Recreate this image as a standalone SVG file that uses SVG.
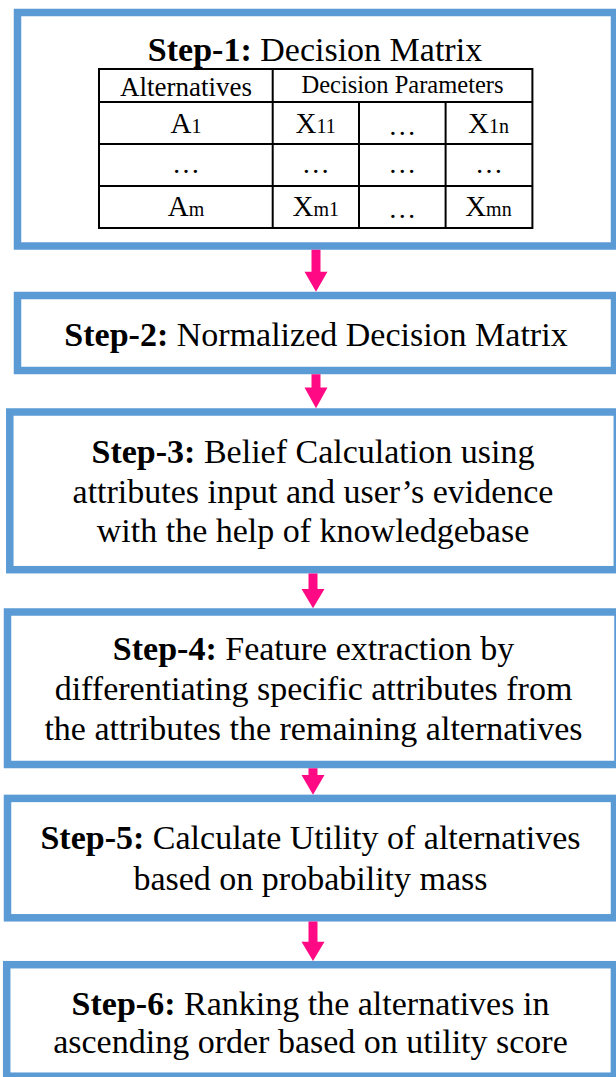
<svg xmlns="http://www.w3.org/2000/svg" width="616" height="1077" viewBox="0 0 616 1077">
<style>
.box{fill:#ffffff;stroke:#5B9BD5;stroke-width:7.5}
.t{font-family:"Liberation Serif","Times New Roman",serif;font-size:34px;fill:#000;text-anchor:middle}
.b{font-weight:bold}
.cell{fill:none;stroke:#000;stroke-width:2}
.tc{font-family:"Liberation Serif","Times New Roman",serif;fill:#000;text-anchor:middle}
.sub{font-size:20px}
.arrow{fill:#FF0A84}
</style>
<rect width="616" height="1077" fill="#ffffff"/>
<g id="step1">
<rect class="box" x="17.5" y="12.5" width="597" height="233.5"/>
<text class="t" x="315" y="61"><tspan class="b">Step-1:</tspan> Decision Matrix</text>
<g id="matrix">
<rect class="cell" x="99" y="69" width="433.4" height="159"/>
<path class="cell" d="M99 102H532.4M99 144H532.4M99 186H532.4M272.7 69V228M359 102V228M445.6 102V228"/>
<text class="tc" x="186" y="96" font-size="27">Alternatives</text>
<text class="tc" x="402.5" y="93" font-size="24.5">Decision Parameters</text>
<text class="tc" x="186" y="133" font-size="29">A<tspan class="sub">1</tspan></text>
<text class="tc" x="315.7" y="133" font-size="29">X<tspan class="sub">11</tspan></text>
<text class="tc" x="402.3" y="135" font-size="28">…</text>
<text class="tc" x="488.6" y="133" font-size="29">X<tspan class="sub">1n</tspan></text>
<text class="tc" x="186" y="173" font-size="28">…</text>
<text class="tc" x="315.8" y="173" font-size="28">…</text>
<text class="tc" x="402.3" y="173" font-size="28">…</text>
<text class="tc" x="489" y="173" font-size="28">…</text>
<text class="tc" x="186" y="216" font-size="29">A<tspan class="sub">m</tspan></text>
<text class="tc" x="315.7" y="216" font-size="29">X<tspan class="sub">m1</tspan></text>
<text class="tc" x="402.3" y="218.3" font-size="28">…</text>
<text class="tc" x="488.4" y="216" font-size="29">X<tspan class="sub">mn</tspan></text>
</g>
</g>
<g id="step2">
<rect class="box" x="17.5" y="295.5" width="597" height="75"/>
<text class="t" x="316" y="346"><tspan class="b">Step-2:</tspan> Normalized Decision Matrix</text>
</g>
<g id="step3">
<rect class="box" x="9.8" y="412" width="607.5" height="157.7"/>
<text class="t" x="313" y="462.7"><tspan class="b">Step-3:</tspan> Belief Calculation using</text>
<text class="t" x="313" y="502.7">attributes input and user’s evidence</text>
<text class="t" x="313" y="541.7">with the help of knowledgebase</text>
</g>
<g id="step4">
<rect class="box" x="7.5" y="612" width="610.5" height="152.5"/>
<text class="t" x="313.5" y="660"><tspan class="b">Step-4:</tspan> Feature extraction by</text>
<text class="t" x="313.5" y="699.5">differentiating specific attributes from</text>
<text class="t" x="313.5" y="740">the attributes the remaining alternatives</text>
</g>
<g id="step5">
<rect class="box" x="7.5" y="798.4" width="607" height="119.4"/>
<text class="t" x="310.5" y="849.3"><tspan class="b">Step-5:</tspan> Calculate Utility of alternatives</text>
<text class="t" x="310.5" y="890">based on probability mass</text>
</g>
<g id="step6">
<rect class="box" x="6.7" y="964.7" width="607.7" height="111.5"/>
<text class="t" x="310.5" y="1015"><tspan class="b">Step-6:</tspan> Ranking the alternatives in</text>
<text class="t" x="310.5" y="1053.3">ascending order based on utility score</text>
</g>
<g id="connectors">
<polygon class="arrow" points="311.5,249.8 320.5,249.8 320.5,271.7 327.5,271.7 316,291.7 304.5,271.7 311.5,271.7"/>
<polygon class="arrow" points="311.5,374.2 320.5,374.2 320.5,387.5 327.5,387.5 316,408.2 304.5,387.5 311.5,387.5"/>
<polygon class="arrow" points="308.5,573.4 317.5,573.4 317.5,589 324.5,589 313,608.2 301.5,589 308.5,589"/>
<polygon class="arrow" points="308.5,768.2 317.5,768.2 317.5,775 324.5,775 313,794.7 301.5,775 308.5,775"/>
<polygon class="arrow" points="308.5,921.5 317.5,921.5 317.5,941.7 324.5,941.7 313,961 301.5,941.7 308.5,941.7"/>
</g>
</svg>
